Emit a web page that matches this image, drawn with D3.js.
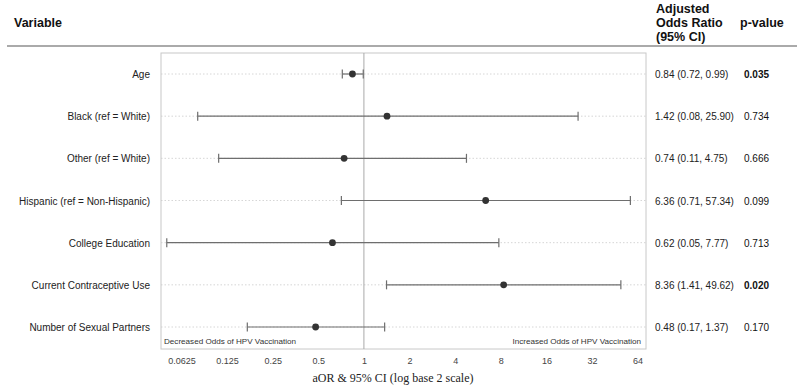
<!DOCTYPE html>
<html><head><meta charset="utf-8">
<script src="https://cdn.jsdelivr.net/npm/d3@7"></script>
<style>body{margin:0;background:#fff;} svg{display:block;}</style>
</head><body><svg id="c" width="800" height="390"></svg>
<script>
const variables = ["Age","Black (ref = White)","Other (ref = White)","Hispanic (ref = Non-Hispanic)","College Education","Current Contraceptive Use","Number of Sexual Partners"];
const aor = [0.84,1.42,0.74,6.36,0.62,8.36,0.48];
const lower = [0.72,0.08,0.11,0.71,0.05,1.41,0.17];
const upper = [0.99,25.90,4.75,57.34,7.77,49.62,1.37];
const orText = ["0.84 (0.72, 0.99)","1.42 (0.08, 25.90)","0.74 (0.11, 4.75)","6.36 (0.71, 57.34)","0.62 (0.05, 7.77)","8.36 (1.41, 49.62)","0.48 (0.17, 1.37)"];
const pValues = ["0.035","0.734","0.666","0.099","0.713","0.020","0.170"];
const pBold = [true,false,false,false,false,true,false];
const tickValues = [0.0625,0.125,0.25,0.5,1,2,4,8,16,32,64];
const tickLabels = ["0.0625","0.125","0.25","0.5","1","2","4","8","16","32","64"];

const svg = d3.select("#c");
const font = "Liberation Sans, Arial, sans-serif";
const L = 161, R = 646, T = 53, B = 349;
const x = d3.scaleLog().base(2).domain([0.0458, 72.7]).range([L, R]);
const y = d3.scalePoint().domain(variables).range([74, 327]);

// header
svg.append("text").attr("x",14).attr("y",27).attr("font-family",font).attr("font-size",12.5).attr("font-weight","bold").attr("fill","#111").text("Variable");
["Adjusted","Odds Ratio","(95% CI)"].forEach((t,i)=>{
  svg.append("text").attr("x",656).attr("y",13+i*14).attr("font-family",font).attr("font-size",12.5).attr("font-weight","bold").attr("fill","#111").text(t);
});
svg.append("text").attr("x",740).attr("y",27).attr("font-family",font).attr("font-size",12.5).attr("font-weight","bold").attr("fill","#111").text("p-value");
svg.append("line").attr("x1",7).attr("x2",797).attr("y1",46).attr("y2",46).attr("stroke","#aaa").attr("stroke-width",2);

// panel
svg.append("rect").attr("x",L).attr("y",T).attr("width",R-L).attr("height",B-T).attr("fill","none").attr("stroke","#c8c8c8").attr("stroke-width",1);

// gridlines
svg.selectAll(".grid").data(variables).join("line")
  .attr("x1",L).attr("x2",R).attr("y1",d=>y(d)).attr("y2",d=>y(d))
  .attr("stroke","#ccc").attr("stroke-width",0.8).attr("stroke-dasharray","1.5,2");

// reference line
svg.append("line").attr("x1",x(1)).attr("x2",x(1)).attr("y1",T).attr("y2",B).attr("stroke","#aaa").attr("stroke-width",1);

// CI
const rows = variables.map((v,i)=>({v, o:aor[i], lo:lower[i], hi:upper[i]}));
const g = svg.append("g");
g.selectAll(".ci").data(rows).join("line")
  .attr("x1",d=>x(d.lo)).attr("x2",d=>x(d.hi)).attr("y1",d=>y(d.v)).attr("y2",d=>y(d.v))
  .attr("stroke","#6e6e6e").attr("stroke-width",1.2);
g.selectAll(".capl").data(rows).join("line")
  .attr("x1",d=>x(d.lo)).attr("x2",d=>x(d.lo)).attr("y1",d=>y(d.v)-4.5).attr("y2",d=>y(d.v)+4.5)
  .attr("stroke","#6e6e6e").attr("stroke-width",1.2);
g.selectAll(".capr").data(rows).join("line")
  .attr("x1",d=>x(d.hi)).attr("x2",d=>x(d.hi)).attr("y1",d=>y(d.v)-4.5).attr("y2",d=>y(d.v)+4.5)
  .attr("stroke","#6e6e6e").attr("stroke-width",1.2);
g.selectAll(".pt").data(rows).join("circle")
  .attr("cx",d=>x(d.o)).attr("cy",d=>y(d.v)).attr("r",3.4).attr("fill","#333");

// labels
svg.selectAll(".lab").data(variables).join("text")
  .attr("x",150).attr("y",d=>y(d)+4).attr("text-anchor","end")
  .attr("font-family",font).attr("font-size",10).attr("fill","#222").text(d=>d);
svg.selectAll(".ort").data(orText).join("text")
  .attr("x",655).attr("y",(d,i)=>y(variables[i])+4)
  .attr("font-family",font).attr("font-size",10).attr("fill","#222").text(d=>d);
svg.selectAll(".pv").data(pValues).join("text")
  .attr("x",744).attr("y",(d,i)=>y(variables[i])+4)
  .attr("font-family",font).attr("font-size",10).attr("fill","#111")
  .attr("font-weight",(d,i)=>pBold[i]?"bold":"normal").text(d=>d);

// annotations
svg.append("text").attr("x",164).attr("y",344).attr("font-family",font).attr("font-size",8.1).attr("fill","#333").text("Decreased Odds of HPV Vaccination");
svg.append("text").attr("x",641).attr("y",344).attr("text-anchor","end").attr("font-family",font).attr("font-size",8.1).attr("fill","#333").text("Increased Odds of HPV Vaccination");

// axis
const axis = d3.axisBottom(x).tickValues(tickValues).tickFormat((d,i)=>tickLabels[i]).tickSize(0).tickPadding(9);
const ax = svg.append("g").attr("transform",`translate(0,${B})`).call(axis);
ax.select(".domain").remove();
ax.selectAll("text").attr("font-family",font).attr("font-size",9).attr("fill","#444");

svg.append("text").attr("x",393).attr("y",382).attr("text-anchor","middle")
  .attr("font-family","Liberation Serif, Times New Roman, serif").attr("font-size",12).attr("fill","#222")
  .text("aOR & 95% CI (log base 2 scale)");
</script></body></html>
